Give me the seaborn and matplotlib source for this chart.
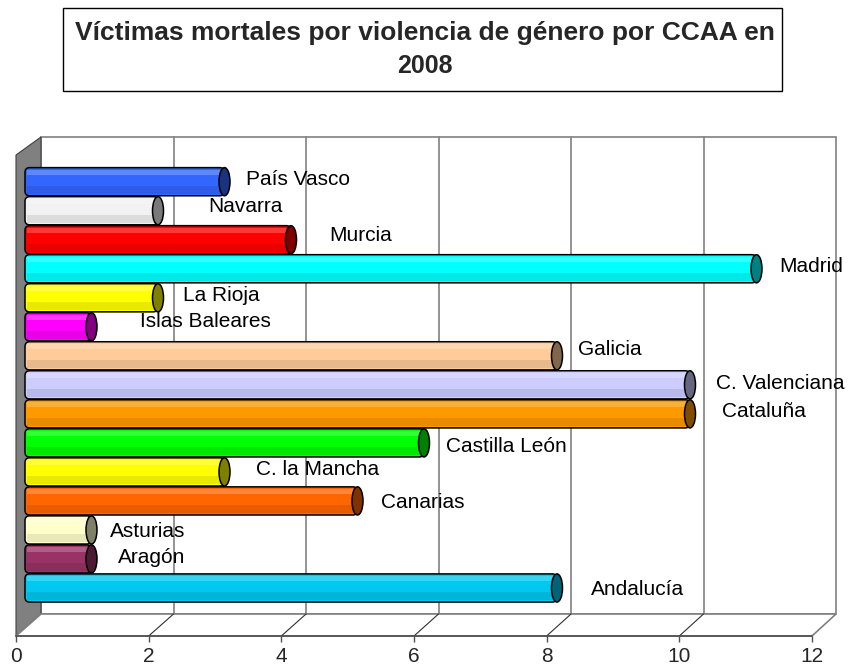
import matplotlib
matplotlib.use("Agg")
import matplotlib.pyplot as plt
import matplotlib.colors as mcolors
from matplotlib.patches import Rectangle, Polygon, Ellipse, FancyBboxPatch
from matplotlib.transforms import Affine2D
import pandas as pd
import seaborn as sns

# Data (Excel order, bottom to top in the chart)
regions = ["Andalucía", "Aragón", "Asturias", "Canarias", "C. la Mancha",
           "Castilla León", "Cataluña", "C. Valenciana", "Galicia",
           "Islas Baleares", "La Rioja", "Madrid", "Murcia", "Navarra",
           "País Vasco"]
victims = [8, 1, 1, 5, 3, 6, 10, 10, 8, 1, 2, 11, 4, 2, 3]
bar_colors = ["#00c8f0", "#993366", "#ffffcc", "#ff6600", "#ffff00",
              "#00ff00", "#ff9900", "#ccccff", "#ffcc99", "#ff00ff",
              "#ffff00", "#00ffff", "#ff0000", "#f2f2f2", "#3366ff"]
xticks = [0, 2, 4, 6, 8, 10, 12]
title_lines = ["Víctimas mortales por violencia de género por CCAA en", "2008"]

# where Excel dropped each category label (pixels: right of bar end, down)
label_nudge = [(34, 2), (26, -1), (18, 2), (24, 2), (31, -2),
               (22, 4), (32, -2), (26, -1), (21, -6), (49, -5),
               (25, -2), (23, -2), (38, -4), (50, -4), (22, -2)]

W, H = 852, 670
X0, XS = 25, 66.5          # bar origin / px per unit
Y0, YS = 181.7, 29.02      # first bar centre / px per bar

sns.set_theme(style="white")
plt.rcParams["font.family"] = ["Liberation Sans", "DejaVu Sans"]

fig = plt.figure(figsize=(W / 100, H / 100), dpi=100)
fig.patch.set_facecolor("white")
ax = fig.add_axes([0, 0, 1, 1])
ax.set_axis_off()
pix = Affine2D().scale(1 / W, -1 / H).translate(0, 1) + fig.transFigure

# bars
df = pd.DataFrame({"region": regions, "victims": victims})
order = regions[::-1]
sns.barplot(data=df, x="victims", y="region", hue="region", order=order,
            hue_order=order, palette=dict(zip(regions, bar_colors)),
            legend=False, width=0.97, saturation=1, edgecolor="black",
            linewidth=1.1, ax=ax, zorder=2)

ax.set_xlim(-X0 / XS, (W - X0) / XS)
ax.set_ylim((H - Y0) / YS, -Y0 / YS)

# round off the bar ends (cylinders)
for p in list(ax.patches):
    rb = FancyBboxPatch((p.get_x(), p.get_y()), p.get_width(), p.get_height(),
                        boxstyle="round,pad=0,rounding_size=0.07",
                        mutation_aspect=XS / YS, facecolor=p.get_facecolor(),
                        edgecolor="black", lw=1.1, zorder=2)
    p.remove()
    ax.add_patch(rb)

# 3D frame: back wall, gridlines, side wall, floor
grey = "#808080"
ax.add_patch(Rectangle((41, 137), 795, 477, transform=pix, facecolor="white",
                       edgecolor=grey, lw=1.2, zorder=0))
for v in xticks[1:-1]:
    bx = 41 + 66.25 * v
    ax.plot([bx, bx], [137, 614], color=grey, lw=1.2, transform=pix, zorder=0.5)
ax.add_patch(Polygon([(16, 155), (41, 137), (41, 614), (16, 636)], transform=pix,
                     facecolor=grey, edgecolor="#404040", lw=0.8, zorder=0.6))
ax.add_patch(Polygon([(16, 636), (41, 614), (836, 614), (812, 636)], transform=pix,
                     facecolor="white", edgecolor=grey, lw=1.2, zorder=0.6))
for v in xticks[1:-1]:
    ax.plot([16 + 66.33 * v, 41 + 66.25 * v], [636, 614], color="#303030",
            lw=0.8, transform=pix, zorder=0.7)

val = dict(zip(regions, victims))
col = dict(zip(regions, bar_colors))
nudge = dict(zip(regions, label_nudge))
for k, name in enumerate(order):
    v = val[name]
    # cylinder shading
    ax.add_patch(Rectangle((0.03, k - 0.42), v - 0.03, 0.18, facecolor="white",
                           alpha=0.22, lw=0, zorder=2.1))
    ax.add_patch(Rectangle((0.03, k + 0.15), v - 0.03, 0.28, facecolor="black",
                           alpha=0.09, lw=0, zorder=2.1))
    cap = tuple(c * 0.5 for c in mcolors.to_rgb(col[name]))
    ax.add_patch(Ellipse((v, k), 11 / XS, 0.97, facecolor=cap,
                         edgecolor="black", lw=1.1, zorder=3))
    dx, dy = nudge[name]
    ax.annotate(name, (v, k), xytext=(dx, -dy), textcoords="offset pixels",
                ha="left", va="center", fontsize=15, color="black", zorder=4)

# front axis
axf = fig.add_axes([16 / W, (H - 636) / H, (812 - 16) / W, 1e-4])
axf.set_facecolor("none")
axf.set_xlim(xticks[0], xticks[-1])
axf.set_xticks(xticks)
axf.set_yticks([])
for s in ["top", "left", "right"]:
    axf.spines[s].set_visible(False)
axf.spines["bottom"].set_color("#505050")
axf.spines["bottom"].set_linewidth(1.2)
axf.tick_params(axis="x", direction="out", length=4, width=1, color="#505050",
                labelsize=15, pad=4, bottom=True)

# title box
ax.add_patch(Rectangle((63, 8), 719, 83, transform=pix, facecolor="white",
                       edgecolor="black", lw=1, zorder=5))
ax.text(425, 40, title_lines[0], transform=pix, ha="center", va="baseline",
        fontsize=19, fontweight="bold", zorder=6)
ax.text(425, 73, title_lines[1], transform=pix, ha="center", va="baseline",
        fontsize=18, fontweight="bold", zorder=6)

fig.savefig("out.png", dpi=100)
